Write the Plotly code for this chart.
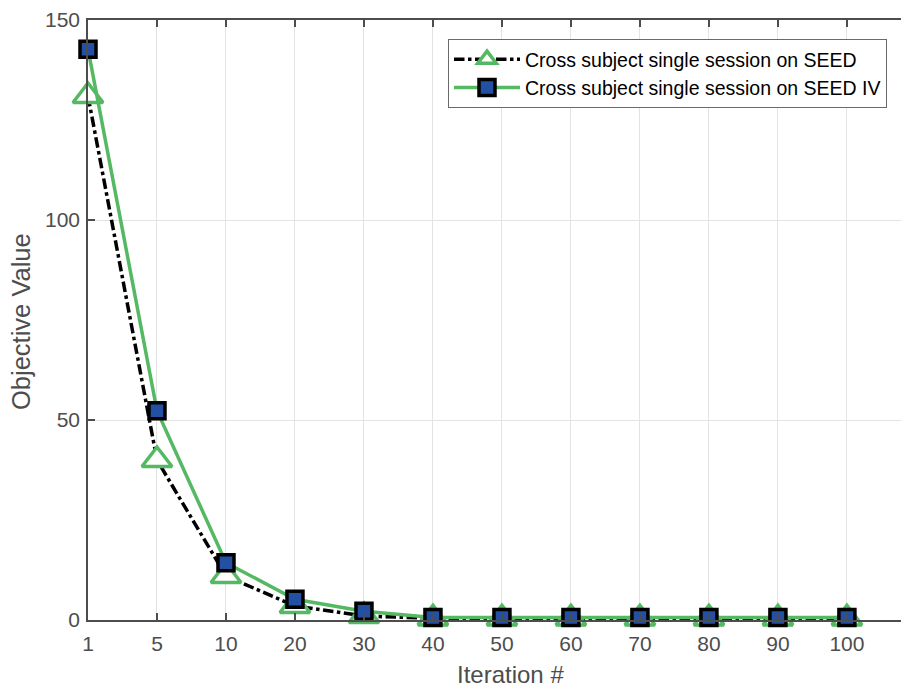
import plotly.graph_objects as go

iterations = ["1", "5", "10", "20", "30", "40", "50", "60", "70", "80", "90", "100"]
seed_values = [131, 40, 11, 3.5, 1.0, 0.4, 0.4, 0.4, 0.4, 0.4, 0.4, 0.4]
seed_iv_values = [142.7, 52.3, 14.3, 5.2, 2.2, 0.6, 0.6, 0.6, 0.6, 0.6, 0.6, 0.6]
y_ticks = [0, 50, 100, 150]

pos = list(range(len(iterations)))
green = "#55b863"
gray = "#4d4d4d"
fam = "Liberation Sans, Arial"

OFF = 8  # page body margin
W, H = 909 - OFF, 688 - OFF
L, R, T, B = 88 - OFF, 0, 20 - OFF, 688 - 620
pw, ph = W - L - R, H - T - B

def px_x(px):
    return (px - OFF - L) / pw

def px_y(py):
    return (H - B - (py - OFF)) / ph

fig = go.Figure()
fig.add_trace(go.Scatter(
    x=pos, y=seed_values, mode="lines+markers",
    name="Cross subject single session on SEED",
    line=dict(color="black", width=3.5, dash="dashdot"),
    marker=dict(symbol="triangle-up", size=26, color="white",
                line=dict(color=green, width=3.5)),
    cliponaxis=False,
))
fig.add_trace(go.Scatter(
    x=pos, y=seed_iv_values, mode="lines+markers",
    name="Cross subject single session on SEED IV",
    line=dict(color=green, width=3.5),
    marker=dict(symbol="square", size=16, color="#2350a3",
                line=dict(color="black", width=3.5)),
    cliponaxis=False,
))

axis_font = dict(family=fam, size=21, color=gray)
common = dict(
    showgrid=True, gridcolor="#e3e3e3", gridwidth=1,
    showline=True, linecolor=gray, linewidth=1.5, mirror="ticks",
    ticks="inside", ticklen=7, tickcolor=gray, tickwidth=1.5,
    tickfont=axis_font, zeroline=False, automargin=False,
)
fig.update_layout(
    width=W, height=H,
    margin=dict(l=L, r=R, t=T, b=B),
    plot_bgcolor="white", paper_bgcolor="white",
    showlegend=True,
    legend=dict(x=px_x(887), y=px_y(39), xanchor="right", yanchor="top",
                bordercolor="#6a6a6a", borderwidth=1, bgcolor="white",
                font=dict(family=fam, size=19.5, color="black"),
                tracegroupgap=0, itemwidth=66),
    xaxis=dict(range=[0, 11.9], tickmode="array", tickvals=pos, ticktext=iterations,
               ticklabelstandoff=4, **common),
    yaxis=dict(range=[0, 150], tickmode="array", tickvals=y_ticks,
               ticklabelstandoff=2, **common),
    annotations=[
        dict(text="Iteration #", xref="paper", yref="paper",
             x=px_x(510), y=px_y(675), xanchor="center", yanchor="middle",
             showarrow=False, font=dict(family=fam, size=24, color=gray)),
        dict(text="Objective Value", xref="paper", yref="paper",
             x=px_x(21), y=px_y(322), xanchor="center", yanchor="middle",
             textangle=-90, showarrow=False, font=dict(family=fam, size=25.5, color=gray)),
    ],
)
fig.write_html("out.html")
